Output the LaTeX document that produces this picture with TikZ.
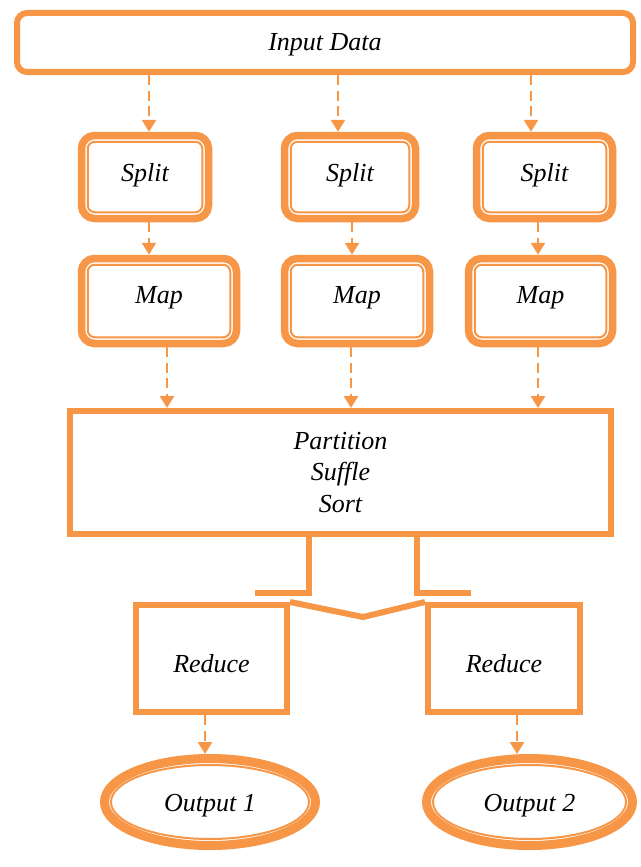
\documentclass[tikz,border=0pt]{standalone}
\usepackage{fontspec}
\setmainfont{Liberation Serif}
\usetikzlibrary{arrows.meta,shapes.geometric}
\definecolor{org}{RGB}{247,150,70}
\begin{document}
\begin{tikzpicture}[x=1pt,y=-1pt,
  every node/.style={font=\fontsize{26}{31.5}\selectfont\itshape, inner sep=0pt, align=center},
  bigbox/.style={draw=org, line width=6pt, rounded corners=10pt, rectangle},
  dbox/.style={draw=org, line width=7.5pt, rounded corners=13pt, rectangle},
  sqbox/.style={draw=org, line width=6pt, rectangle},
  ellbox/.style={draw=org, line width=9pt, ellipse},
  innerln/.style={draw=org, line width=2pt, rounded corners=7pt},
  arr/.style={draw=org, line width=2.5pt, dash pattern=on 10pt off 5.5pt, -{Triangle[length=12pt,width=14pt]}},
  conn/.style={draw=org, line width=6pt},
]
\useasboundingbox (0,0) rectangle (640,867);
\fill[white] (0,0) rectangle (640,867);

% Input
\node[bigbox, minimum width=616pt, minimum height=59pt] (in) at (325,42.5) {};
\node (inT) at ([shift={(0,2)}]in.center) {Input Data};

% Split boxes
\node[dbox, minimum width=127pt, minimum height=83pt] (s1) at (145,177) {};
\node[dbox, minimum width=131pt, minimum height=83pt] (s2) at (350,177) {};
\node[dbox, minimum width=136pt, minimum height=83pt] (s3) at (544.5,177) {};
\node (s1T) at ([shift={(0,-2)}]s1.center) {Split};
\node (s2T) at ([shift={(0,-2)}]s2.center) {Split};
\node (s3T) at ([shift={(0,-2)}]s3.center) {Split};

% Map boxes
\node[dbox, minimum width=155pt, minimum height=85pt] (m1) at (159,301) {};
\node[dbox, minimum width=145pt, minimum height=85pt] (m2) at (357,301) {};
\node[dbox, minimum width=144pt, minimum height=85pt] (m3) at (540.5,301) {};
\node (m1T) at ([shift={(0,-3)}]m1.center) {Map};
\node (m2T) at ([shift={(0,-3)}]m2.center) {Map};
\node (m3T) at ([shift={(0,-3)}]m3.center) {Map};

\foreach \n in {s1,s2,s3,m1,m2,m3}{
  \draw[innerln] ([shift={(10,10)}]\n.north west) rectangle ([shift={(-10,-10)}]\n.south east);
}

% Partition
\node[sqbox, minimum width=541pt, minimum height=123pt] (p) at (340.5,472.5) {Partition\\Suffle\\Sort};

% Reduce
\node[sqbox, minimum width=151pt, minimum height=107pt] (r1) at (211.5,658.5) {};
\node[sqbox, minimum width=152pt, minimum height=107pt] (r2) at (504,658.5) {};
\node (r1T) at ([shift={(0,5)}]r1.center) {Reduce};
\node (r2T) at ([shift={(0,5)}]r2.center) {Reduce};

% Outputs
\node[ellbox, minimum width=211pt, minimum height=87pt] (o1) at (210,802) {};
\node[ellbox, minimum width=206pt, minimum height=87pt] (o2) at (529.5,802) {};
\draw[org, line width=2pt] (o1.center) ellipse [x radius=99, y radius=37];
\draw[org, line width=2pt] (o2.center) ellipse [x radius=96.5, y radius=37];
\node (o1T) at ([shift={(0,4)}]o1.center) {Output 1};
\node (o2T) at ([shift={(0,4)}]o2.center) {Output 2};

% column coordinates
\coordinate (a1) at (149,0); \coordinate (a2) at (338,0); \coordinate (a3) at (531,0);
\coordinate (b1) at (149,0); \coordinate (b2) at (352,0); \coordinate (b3) at (538,0);
\coordinate (c1) at (167,0); \coordinate (c2) at (351,0); \coordinate (c3) at (538,0);
\coordinate (d1) at (205,0); \coordinate (d2) at (517,0);

\draw[arr] (in.south -| a1) -- (s1.north -| a1);
\draw[arr] (in.south -| a2) -- (s2.north -| a2);
\draw[arr] (in.south -| a3) -- (s3.north -| a3);
\draw[arr] (s1.south -| b1) -- (m1.north -| b1);
\draw[arr] (s2.south -| b2) -- (m2.north -| b2);
\draw[arr] (s3.south -| b3) -- (m3.north -| b3);
\draw[arr] (m1.south -| c1) -- (p.north -| c1);
\draw[arr] (m2.south -| c2) -- (p.north -| c2);
\draw[arr] (m3.south -| c3) -- (p.north -| c3);
\draw[arr] (r1.south -| d1) -- (o1.north -| d1);
\draw[arr] (r2.south -| d2) -- (o2.north -| d2);

% Partition -> Reduce connector
\coordinate (e1) at (309,0); \coordinate (e2) at (417,0);
\coordinate (hl) at (255,593); \coordinate (hr) at (471,593);
\coordinate (vb) at (363,617);
\draw[conn] (p.south -| e1) -- (e1 |- hl) -- (hl);
\draw[conn] (p.south -| e2) -- (e2 |- hr) -- (hr);
\draw[conn, line join=miter] (r1.north east) -- (vb) -- (r2.north west);
\end{tikzpicture}
\end{document}
